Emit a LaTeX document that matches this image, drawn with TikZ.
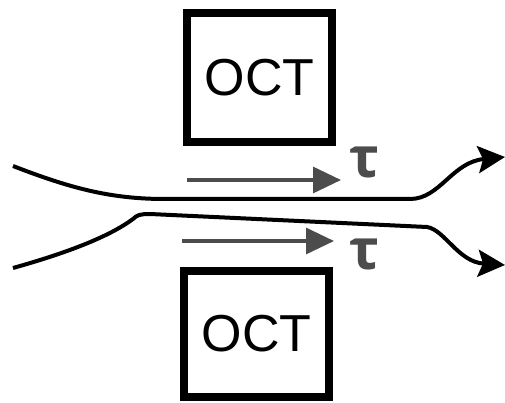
\documentclass[tikz,border=0pt]{standalone}
\usepackage{fontspec}
\setmainfont{Liberation Sans}
\newfontfamily\greekfont{Open Sans}
\usetikzlibrary{arrows.meta}
\begin{document}
\begin{tikzpicture}[x=1pt,y=-1pt,
  octbox/.style={draw=black,line width=8pt,minimum width=145pt,minimum height=129pt,
    inner sep=0pt,font=\fontsize{52}{52}\selectfont},
  fiber/.style={line width=4pt,black,-{Stealth[length=27pt,width=27pt,inset=5pt]}},
  shiftarrow/.style={line width=3.3pt,draw=black!70,-{Triangle[length=28pt,width=26pt]}},
  taulabel/.style={text=black!70,font=\greekfont\bfseries\fontsize{56}{56}\selectfont,inner sep=0pt}]
  \useasboundingbox (0,0) rectangle (505,403);

  % the two OCT units
  \node[octbox] (top) at (259.5,77.5) {OCT};
  \node[octbox,minimum height=126pt] (bottom) at (256.5,334) {OCT};

  % delay arrows with their labels
  \coordinate (a1) at (187,180);
  \coordinate (b1) at (341,180);
  \coordinate (a2) at (182,241);
  \coordinate (b2) at (334,241);
  \draw[shiftarrow] (a1) -- (b1);
  \draw[shiftarrow] (a2) -- (b2);
  \node[taulabel] (tau1) at (365,162) {τ};
  \node[taulabel] (tau2) at (365,254) {τ};

  % upper fibre
  \coordinate (u0) at (13,166);
  \coordinate (u1) at (165,199);
  \coordinate (u2) at (410,199);
  \coordinate (u3) at (505,157);
  \draw[fiber] (u0) .. controls (70,188) and (110,199) .. (u1) -- (u2)
    .. controls (440,199) and (452,162) .. (u3);

  % lower fibre
  \coordinate (l0) at (13,268);
  \coordinate (l1) at (133,219);
  \coordinate (l2) at (427,227);
  \coordinate (l3) at (505,265);
  \draw[fiber] (l0) .. controls (70,252) and (110,236) .. (l1)
    .. controls (137,215) and (140,214) .. (150,214) -- (l2)
    .. controls (445,230) and (458,262) .. (l3);
\end{tikzpicture}
\end{document}
